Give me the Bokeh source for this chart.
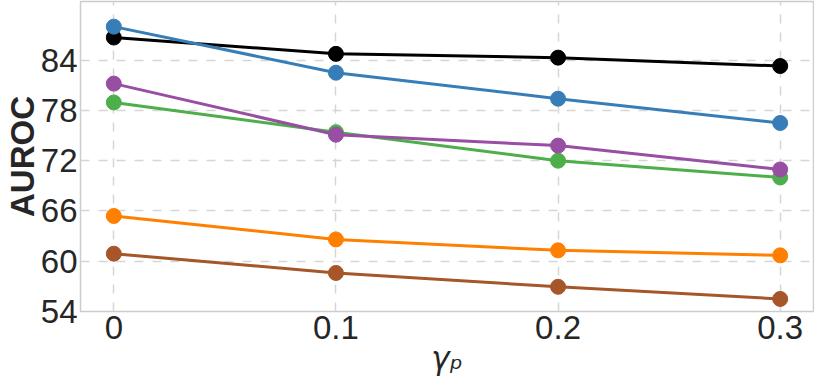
from bokeh.plotting import figure
from bokeh.models import Range1d, FixedTicker
from bokeh.embed import file_html
from bokeh.resources import INLINE

# Data
gamma_p = [0.0, 0.1, 0.2, 0.3]
x_tick_labels = {0.0: "0", 0.1: "0.1", 0.2: "0.2", 0.3: "0.3"}
y_ticks = [54, 60, 66, 72, 78, 84]

series_brown = [60.9, 58.6, 56.95, 55.5]
series_orange = [65.4, 62.6, 61.3, 60.7]
series_green = [78.95, 75.4, 72.0, 70.0]
series_purple = [81.2, 75.1, 73.8, 70.95]
series_black = [86.7, 84.75, 84.3, 83.3]
series_blue = [88.0, 82.5, 79.4, 76.5]

colors = {
    "brown": "#a65628",
    "orange": "#ff7f00",
    "green": "#4daf4a",
    "purple": "#984ea3",
    "black": "#000000",
    "blue": "#377eb8",
}

p = figure(
    width=814, height=378,
    output_backend="svg", toolbar_location=None,
    x_range=Range1d(-0.015, 0.315), y_range=Range1d(54, 91),
    min_border_left=60, min_border_right=1, min_border_top=1, min_border_bottom=50,
)
p.background_fill_color = "white"
p.border_fill_color = "white"
p.outline_line_color = "#cccccc"
p.outline_line_width = 1.5

for name, ys in [("brown", series_brown), ("orange", series_orange),
                 ("green", series_green), ("purple", series_purple),
                 ("black", series_black), ("blue", series_blue)]:
    c = colors[name]
    p.line(gamma_p, ys, line_color=c, line_width=3)
    p.scatter(gamma_p, ys, size=15, fill_color=c, line_color=c, marker="circle")

# grids
for g in (p.xgrid[0], p.ygrid[0]):
    g.grid_line_color = "#d5d5d5"
    g.grid_line_width = 1.5
    g.grid_line_dash = "9 9"

p.xaxis.ticker = FixedTicker(ticks=gamma_p)
p.xaxis.major_label_overrides = x_tick_labels
p.yaxis.ticker = FixedTicker(ticks=y_ticks)

for ax in (p.xaxis[0], p.yaxis[0]):
    ax.axis_line_color = None
    ax.major_tick_line_color = None
    ax.minor_tick_line_color = None
    ax.major_tick_out = 0
    ax.major_tick_in = 0
    ax.minor_tick_out = 0
    ax.minor_tick_in = 0
    ax.major_label_text_font = "Liberation Sans"
    ax.major_label_text_font_size = "33px"
    ax.major_label_text_color = "#262626"

p.xaxis.major_label_standoff = 4
p.yaxis.major_label_standoff = 3

p.yaxis.axis_label = "AUROC"
p.yaxis.axis_label_text_font = "Liberation Sans"
p.yaxis.axis_label_text_font_style = "bold"
p.yaxis.axis_label_text_font_size = "33px"
p.yaxis.axis_label_text_color = "#262626"
p.yaxis.axis_label_standoff = -3

p.xaxis.axis_label = "γₚ"
p.xaxis.axis_label_text_font = "DejaVu Sans"
p.xaxis.axis_label_text_font_style = "italic"
p.xaxis.axis_label_text_font_size = "31px"
p.xaxis.axis_label_text_color = "#262626"
p.xaxis.axis_label_standoff = -2

open("out.html", "w").write(file_html(p, INLINE))
